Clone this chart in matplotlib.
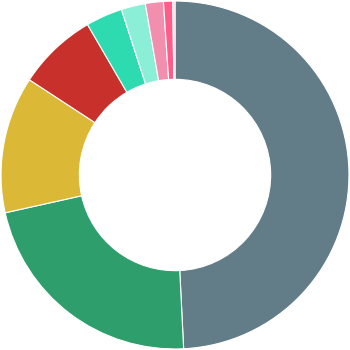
import matplotlib
matplotlib.use("Agg")
import matplotlib.pyplot as plt

labels = ["A", "B", "C", "D", "E", "F", "G", "H", "I"]
values = [49.2, 22.3, 12.7, 7.4, 3.4, 2.25, 1.67, 0.86, 0.2]
colors = ["#627d87", "#2e9e6c", "#dbb835", "#c7302b", "#2edbb0",
          "#8aefd6", "#f28fae", "#ff5c8a", "#f5c6d0"]

fig = plt.figure(figsize=(3.5, 3.5), dpi=100)
ax = fig.add_axes([0, 0, 1, 1])
ax.pie(values, colors=colors, startangle=90, counterclock=False,
       radius=1.0,
       wedgeprops=dict(width=0.45, edgecolor="white", linewidth=0.8))
ax.set_xlim(-1.006, 1.006)
ax.set_ylim(-1.006, 1.006)
ax.set_aspect("equal")
ax.axis("off")
fig.savefig("out.png", dpi=100, facecolor="white")
